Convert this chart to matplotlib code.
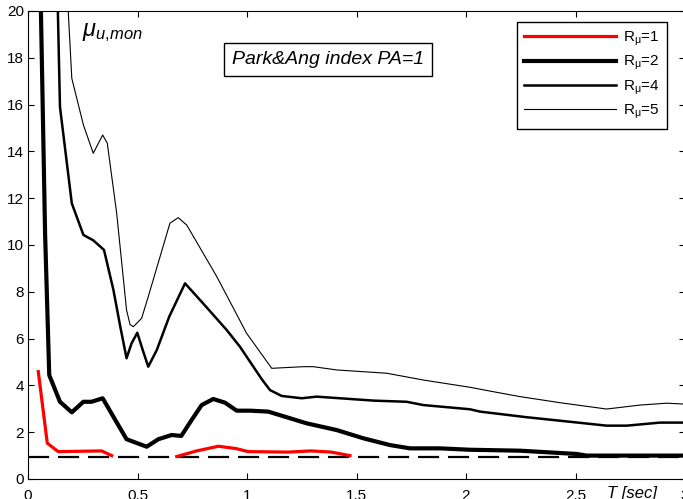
import numpy as np
import matplotlib
matplotlib.use("Agg")
import matplotlib.pyplot as plt

plt.rcParams['font.family'] = ['Liberation Sans', 'DejaVu Sans']
plt.rcParams['mathtext.fontset'] = 'custom'
plt.rcParams['mathtext.rm'] = 'Liberation Sans'
plt.rcParams['mathtext.it'] = 'Liberation Sans:italic'

# period T [sec] and monotonic ductility demand for each strength reduction factor
nan = np.nan
T_r1 = [0.047, 0.088, 0.138, 0.20, 0.336, 0.382, nan,
        0.679, 0.77, 0.869, 0.95, 1.005, 1.19, 1.29, 1.385, 1.47]
mu_r1 = [4.59, 1.53, 1.17, 1.18, 1.20, 1.00, nan,
         0.96, 1.20, 1.40, 1.30, 1.17, 1.15, 1.20, 1.15, 1.00]

T_r2 = [0.057, 0.078, 0.097, 0.146, 0.20, 0.253, 0.29, 0.341, 0.39, 0.45,
        0.542, 0.595, 0.656, 0.70, 0.747, 0.793, 0.846, 0.90, 0.953, 1.014,
        1.097, 1.272, 1.41, 1.531, 1.653, 1.744, 1.881, 2.018, 2.247, 2.505,
        2.551, 3.0]
mu_r2 = [21.0, 10.5, 4.44, 3.30, 2.85, 3.30, 3.30, 3.45, 2.66, 1.70,
         1.38, 1.70, 1.88, 1.84, 2.52, 3.16, 3.42, 3.26, 2.92, 2.92,
         2.88, 2.38, 2.09, 1.74, 1.45, 1.31, 1.31, 1.25, 1.21, 1.07,
         1.00, 1.00]

T_r4 = [0.134, 0.146, 0.20, 0.253, 0.298, 0.347, 0.39, 0.42, 0.45, 0.473,
        0.499, 0.524, 0.549, 0.588, 0.645, 0.717, 0.80, 0.907, 0.968, 1.067,
        1.105, 1.158, 1.25, 1.318, 1.577, 1.729, 1.805, 2.018, 2.064, 2.277,
        2.43, 2.642, 2.734, 2.886, 3.0]
mu_r4 = [21.0, 15.9, 11.78, 10.43, 10.2, 9.79, 8.08, 6.58, 5.16, 5.8,
         6.25, 5.51, 4.80, 5.51, 6.94, 8.36, 7.50, 6.37, 5.65, 4.27,
         3.80, 3.55, 3.45, 3.52, 3.35, 3.30, 3.16, 2.98, 2.88, 2.64,
         2.49, 2.28, 2.28, 2.41, 2.41]

T_r5 = [0.178, 0.20, 0.253, 0.298, 0.341, 0.362, 0.405, 0.45, 0.466, 0.481,
        0.519, 0.549, 0.603, 0.648, 0.686, 0.725, 0.862, 0.998, 1.113, 1.257,
        1.303, 1.41, 1.638, 1.805, 2.018, 2.125, 2.247, 2.43, 2.642, 2.687,
        2.795, 2.916, 3.0]
mu_r5 = [21.0, 17.12, 15.13, 13.92, 14.7, 14.35, 11.35, 7.22, 6.6, 6.51,
         6.87, 7.79, 9.5, 10.93, 11.17, 10.85, 8.65, 6.23, 4.73, 4.80,
         4.80, 4.66, 4.52, 4.23, 3.92, 3.73, 3.52, 3.26, 2.99, 3.04,
         3.16, 3.24, 3.20]

mu_ref = 0.95
x_ticks = [0, 0.5, 1, 1.5, 2, 2.5, 3]
x_labels = ['0', '0.5', '1', '1.5', '2', '2.5', '3']
y_ticks = list(range(0, 21, 2))

fig = plt.figure(figsize=(6.83, 4.99), dpi=100)
ax = fig.add_axes([28 / 683, 20 / 499, 657 / 683, 468 / 499])

ax.axhline(mu_ref, color='black', lw=1.6, dashes=(9.5, 4))
l1, = ax.plot(T_r1, mu_r1, color='#ff0000', lw=2.3, label=r'R$_{\mathregular{\mu}}$=1')
l2, = ax.plot(T_r2, mu_r2, color='black', lw=3.0, label=r'R$_{\mathregular{\mu}}$=2')
l4, = ax.plot(T_r4, mu_r4, color='black', lw=1.8, label=r'R$_{\mathregular{\mu}}$=4')
l5, = ax.plot(T_r5, mu_r5, color='black', lw=0.8, label=r'R$_{\mathregular{\mu}}$=5')

ax.set_xlim(0, 3)
ax.set_ylim(0, 20)
ax.set_xticks(x_ticks)
ax.set_xticklabels(x_labels)
ax.set_yticks(y_ticks)
ax.tick_params(direction='in', top=True, right=True, length=4, width=0.8,
               labelsize=11)
ax.tick_params(axis='x', pad=7)
ax.tick_params(axis='y', pad=3)

ax.text(0.881, -0.016, 'T [sec]', transform=ax.transAxes, fontsize=12,
        style='italic', ha='left', va='top')
ax.text(0.082, 0.978, r'$\mu_{u{,}mon}$', transform=ax.transAxes, fontsize=17,
        ha='left', va='top')
ax.text(0.4566, 0.896, 'Park&Ang index PA=1', transform=ax.transAxes,
        fontsize=14, style='italic', ha='center', va='center',
        bbox=dict(boxstyle='square,pad=0.4', fc='white', ec='black', lw=1.0))

leg = ax.legend(handles=[l1, l2, l4, l5], loc='upper right',
                bbox_to_anchor=(667 / 683, 1 - 22 / 499),
                bbox_transform=fig.transFigure, borderaxespad=0,
                fancybox=False, edgecolor='black', framealpha=1,
                fontsize=11, handlelength=6.0, handletextpad=0.45,
                labelspacing=0.4, borderpad=0.5)
leg.get_frame().set_linewidth(1.0)

fig.savefig('out.png', dpi=100)
